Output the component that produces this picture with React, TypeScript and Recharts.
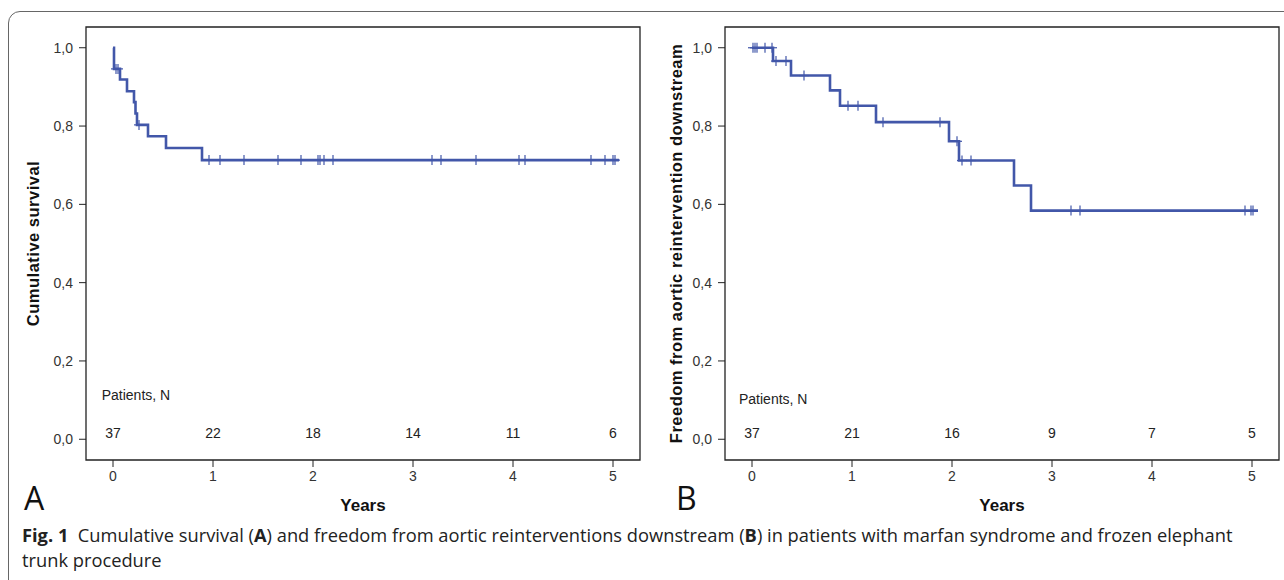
import React from 'react';
import { ComposedChart, Line, Scatter, XAxis, YAxis, ReferenceArea } from 'recharts';

// Kaplan-Meier step points (time in years, survival probability)
const survivalTimes = [0, 0.01, 0.07, 0.14, 0.21, 0.225, 0.24, 0.35, 0.53, 0.89, 5.06];
const survivalValues = [1, 0.946, 0.919, 0.889, 0.861, 0.832, 0.803, 0.774, 0.744, 0.713, 0.713];
const survivalCensored = [0.03, 0.05, 0.26, 0.96, 1.07, 1.31, 1.65, 1.88, 2.05, 2.07, 2.11, 2.2, 3.19, 3.28, 3.63, 4.06, 4.12, 4.78, 4.92, 5.0, 5.02];
const survivalAtRisk = [37, 22, 18, 14, 11, 6];

const reintTimes = [0, 0.21, 0.39, 0.78, 0.88, 1.24, 1.97, 2.07, 2.62, 2.79, 5.06];
const reintValues = [1, 0.966, 0.929, 0.891, 0.852, 0.81, 0.761, 0.712, 0.648, 0.584, 0.584];
const reintCensored = [0.01, 0.03, 0.05, 0.13, 0.2, 0.24, 0.34, 0.52, 0.96, 1.06, 1.31, 1.88, 2.05, 2.1, 2.19, 3.19, 3.28, 4.93, 4.99, 5.01];
const reintAtRisk = [37, 21, 16, 9, 7, 5];

const years = [0, 1, 2, 3, 4, 5];
const yTicks = [0, 0.2, 0.4, 0.6, 0.8, 1.0];

const X_DOMAIN: [number, number] = [-0.27, 5.27];
const Y_DOMAIN: [number, number] = [-0.053, 1.053];
const BLUE = '#4257a9';
const AXIS_FONT = '"Liberation Sans", Arial, sans-serif';

function levelAt(times: number[], values: number[], t: number) {
  let s = values[0];
  for (let i = 0; i < times.length; i++) if (times[i] <= t) s = values[i];
  return s;
}

function CensorMark(props: any) {
  const { cx, cy } = props;
  return (
    <g>
      <line x1={cx} x2={cx} y1={cy - 5} y2={cy + 5} stroke={BLUE} strokeWidth={1.2} />
      <line x1={cx - 5} x2={cx + 5} y1={cy} y2={cy} stroke={BLUE} strokeWidth={1.2} />
    </g>
  );
}

function TextMark(props: any) {
  const { cx, cy, payload } = props;
  return (
    <text x={cx} y={cy} textAnchor={payload.anchor} dominantBaseline="central"
      fontFamily={AXIS_FONT} fontSize={14} fill="#222">
      {payload.text}
    </text>
  );
}

type PanelProps = {
  times: number[];
  values: number[];
  censored: number[];
  atRisk: number[];
  yTitle: string;
  width: number;
  yAxisWidth: number;
  rightMargin: number;
  patientsX: number;
  patientsY: number;
  titleX: number;
};

function KMPanel(p: PanelProps) {
  const steps = p.times.map((t, i) => ({ t, s: p.values[i] }));
  const censorPts = p.censored.map((t) => ({ t, s: levelAt(p.times, p.values, t) }));
  const labels = [
    { t: p.patientsX, s: p.patientsY, text: 'Patients, N', anchor: 'start' },
    ...years.map((y, i) => ({ t: y, s: 0.015, text: String(p.atRisk[i]), anchor: 'middle' })),
  ];

  return (
    <ComposedChart width={p.width} height={520}
      margin={{ top: 27, right: p.rightMargin, left: 0, bottom: 0 }}>
      <XAxis type="number" dataKey="t" domain={X_DOMAIN} ticks={years} allowDataOverflow
        axisLine={false} tickLine={{ stroke: '#222' }} tickSize={7} tickMargin={4} height={60}
        tick={{ fill: '#333', fontSize: 14, fontFamily: AXIS_FONT }}
        label={{
          content: (lp: any) => {
            const vb = lp.viewBox;
            return (
              <text x={vb.x + vb.width / 2} y={505} textAnchor="middle" dominantBaseline="central"
                fontFamily={AXIS_FONT} fontWeight="bold" fontSize={17} fill="#111">Years</text>
            );
          },
        }} />
      <YAxis type="number" dataKey="s" domain={Y_DOMAIN} ticks={yTicks} allowDataOverflow
        axisLine={false} tickLine={{ stroke: '#222' }} tickSize={7} tickMargin={6} width={p.yAxisWidth}
        tickFormatter={(v: number) => v.toFixed(1).replace('.', ',')}
        tick={{ fill: '#333', fontSize: 14, fontFamily: AXIS_FONT }}
        label={{
          content: (lp: any) => {
            const vb = lp.viewBox;
            const cy = vb.y + vb.height / 2;
            return (
              <text x={p.titleX} y={cy} textAnchor="middle" dominantBaseline="central"
                transform={`rotate(-90 ${p.titleX} ${cy})`}
                fontFamily={AXIS_FONT} fontWeight="bold" fontSize={16.5} letterSpacing={0.5} fill="#111">
                {p.yTitle}
              </text>
            );
          },
        }} />
      <ReferenceArea x1={X_DOMAIN[0]} x2={X_DOMAIN[1]} y1={Y_DOMAIN[0]} y2={Y_DOMAIN[1]}
        fill="none" stroke="#222" strokeWidth={1.3} ifOverflow="visible" />
      <Line data={steps} dataKey="s" type="stepAfter" stroke={BLUE} strokeWidth={2.6}
        dot={false} activeDot={false} isAnimationActive={false} />
      <Scatter data={censorPts} dataKey="s" shape={<CensorMark />} isAnimationActive={false} />
      <Scatter data={labels} dataKey="s" shape={<TextMark />} isAnimationActive={false} />
    </ComposedChart>
  );
}

export default function App() {
  return (
    <div style={{ position: 'absolute', left: 0, top: 0, width: 1284, height: 580, overflow: 'hidden', background: '#fff' }}>
      <div style={{
        position: 'absolute', left: 8, top: 11, width: 1300, height: 600,
        border: '1.5px solid #666', borderRadius: 12,
      }} />
      <div style={{ position: 'absolute', left: 0, top: 0 }}>
        <KMPanel times={survivalTimes} values={survivalValues} censored={survivalCensored}
          atRisk={survivalAtRisk} yTitle="Cumulative survival" width={660} yAxisWidth={86}
          rightMargin={20} patientsX={-0.113} patientsY={0.112} titleX={33} />
      </div>
      <div style={{ position: 'absolute', left: 640, top: 0 }}>
        <KMPanel times={reintTimes} values={reintValues} censored={reintCensored}
          atRisk={reintAtRisk} yTitle="Freedom from aortic reintervention downstream" width={644}
          yAxisWidth={85} rightMargin={5} patientsX={-0.13} patientsY={0.103} titleX={36} />
      </div>
      <div style={{ position: 'absolute', left: 24, top: 476, fontFamily: '"Open Sans", sans-serif', fontSize: 32, color: '#111' }}>A</div>
      <div style={{ position: 'absolute', left: 676, top: 476, fontFamily: '"Open Sans", sans-serif', fontSize: 32, color: '#111' }}>B</div>
      <div style={{
        position: 'absolute', left: 22, top: 522, width: 1245,
        fontFamily: '"Open Sans", sans-serif', fontSize: 18.3, lineHeight: '25px', color: '#222',
      }}>
        <b>Fig. 1</b>&nbsp;&nbsp;Cumulative survival (<b>A</b>) and freedom from aortic reinterventions downstream (<b>B</b>) in patients with marfan syndrome and frozen elephant trunk procedure
      </div>
    </div>
  );
}
